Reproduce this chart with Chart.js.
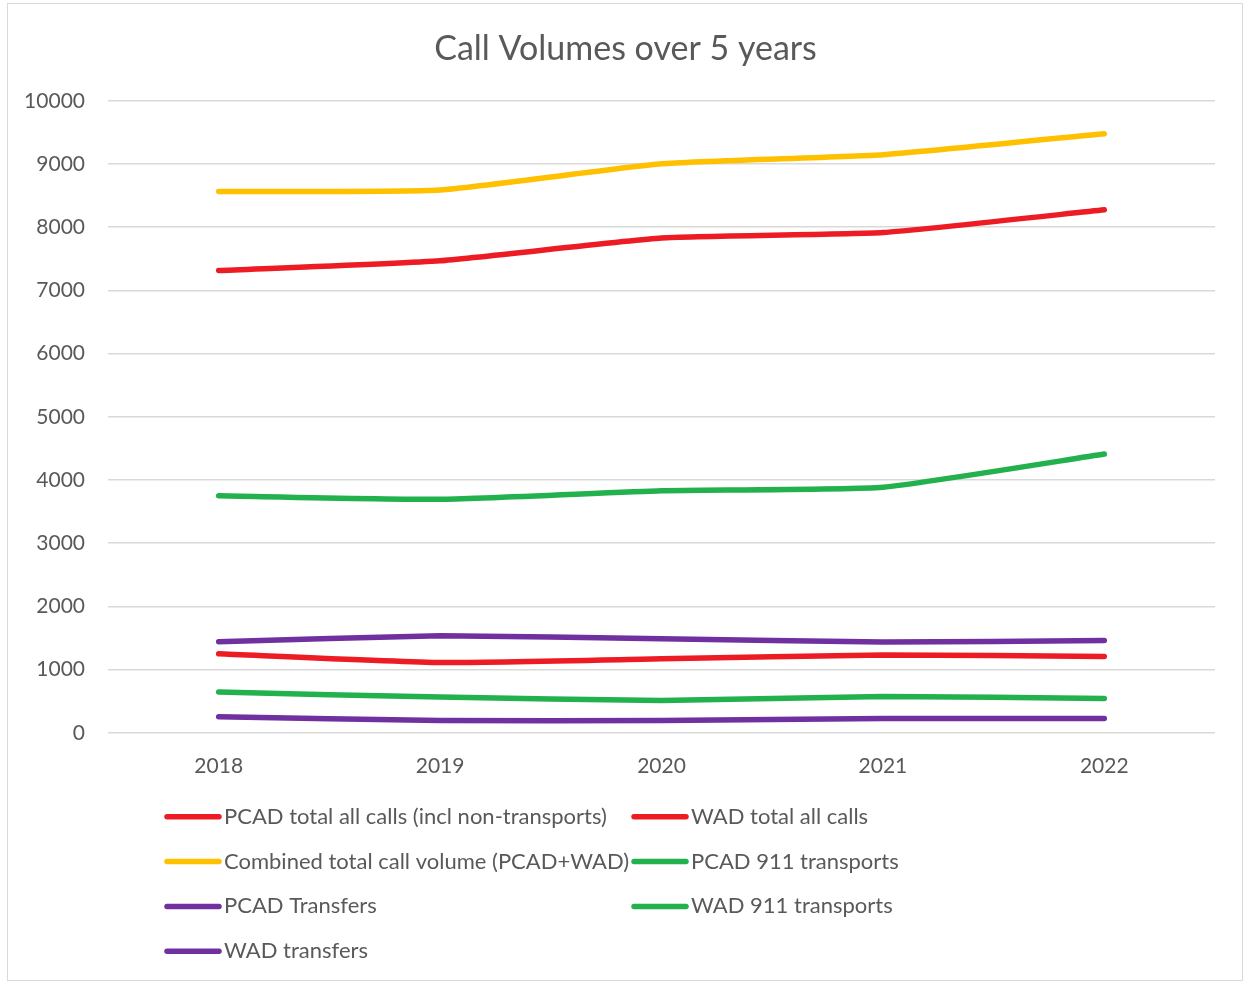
<!DOCTYPE html>
<html>
<head>
<meta charset="utf-8">
<title>Call Volumes over 5 years</title>
<script src="https://cdn.jsdelivr.net/npm/chart.js@4.4.0/dist/chart.umd.min.js"></script>
<style>
  html, body { margin: 0; padding: 0; background: #ffffff; }
  #wrap { position: relative; width: 1244px; height: 982px; }
</style>
</head>
<body>
<div id="wrap"><canvas id="myChart"></canvas></div>
<script>
// data
var years = ['2018', '2019', '2020', '2021', '2022'];
var pcadTotal = [7315, 7470, 7830, 7915, 8275];
var wadTotal = [1250, 1112, 1170, 1232, 1207];
var combinedTotal = [8565, 8590, 9003, 9146, 9480];
var pcad911 = [3750, 3695, 3830, 3885, 4410];
var pcadTransfers = [1440, 1535, 1487, 1435, 1460];
var wad911 = [644, 565, 511, 575, 543];
var wadTransfers = [253, 195, 195, 226, 226];

var seriesNames = ['PCAD total all calls (incl non-transports)', 'WAD total all calls',
    'Combined total call volume (PCAD+WAD)', 'PCAD 911 transports',
    'PCAD Transfers', 'WAD 911 transports', 'WAD transfers'];
var yTicks = [0, 1000, 2000, 3000, 4000, 5000, 6000, 7000, 8000, 9000, 10000];

var RED = '#ed1c24', YELLOW = '#ffc000', GREEN = '#22b14c', PURPLE = '#7030a0';
var TXT = '#595959', GRID = '#d9d9d9';
var FONT = 'Lato, "Open Sans", sans-serif';

function serie(name, values, color) {
    return {
        label: name,
        data: values,
        yAxisID: 'y',
        borderColor: color,
        backgroundColor: color,
        borderWidth: 5.5,
        borderCapStyle: 'round',
        borderJoinStyle: 'round',
        pointRadius: 0,
        pointHoverRadius: 0,
        tension: 0.15
    };
}

var datasets = [
    serie(seriesNames[0], pcadTotal, RED),
    serie(seriesNames[1], wadTotal, RED),
    serie(seriesNames[2], combinedTotal, YELLOW),
    serie(seriesNames[3], pcad911, GREEN),
    serie(seriesNames[4], pcadTransfers, PURPLE),
    serie(seriesNames[5], wad911, GREEN),
    serie(seriesNames[6], wadTransfers, PURPLE)
];

// outer frame like the excel chart border
var framePlugin = {
    id: 'frame',
    beforeDraw: function (chart) {
        var ctx = chart.ctx;
        ctx.save();
        ctx.fillStyle = '#ffffff';
        ctx.fillRect(0, 0, chart.width, chart.height);
        ctx.strokeStyle = GRID;
        ctx.lineWidth = 1;
        ctx.strokeRect(7.5, 3.5, chart.width - 9, chart.height - 5);
        ctx.restore();
    }
};

// two column legend, excel style
var legendPlugin = {
    id: 'twoColLegend',
    afterDraw: function (chart) {
        var ctx = chart.ctx;
        var area = chart.chartArea;
        var cols = [165, 632];
        ctx.save();
        ctx.font = '22px ' + FONT;
        ctx.textBaseline = 'middle';
        ctx.textAlign = 'left';
        chart.data.datasets.forEach(function (ds, i) {
            var x = cols[i % 2];
            var y = area.bottom + 84 + Math.floor(i / 2) * 44.8;
            ctx.strokeStyle = ds.borderColor;
            ctx.lineWidth = 5.5;
            ctx.lineCap = 'round';
            ctx.beginPath();
            ctx.moveTo(x + 2, y);
            ctx.lineTo(x + 54, y);
            ctx.stroke();
            ctx.fillStyle = TXT;
            ctx.fillText(ds.label, x + 59, y);
        });
        ctx.restore();
    }
};

var ctx = document.getElementById('myChart').getContext('2d');
var chart1 = new Chart(ctx, {
    type: 'line',
    data: {
        labels: years,
        datasets: datasets
    },
    options: {
        responsive: true,
        maintainAspectRatio: false,
        animation: false,
        layout: {
            padding: { top: 0, left: 18, right: 11, bottom: 190 }
        },
        plugins: {
            legend: { display: false },
            tooltip: { enabled: false },
            title: {
                display: true,
                text: 'Call Volumes over 5 years',
                color: TXT,
                font: { family: FONT, size: 34, weight: 'normal' },
                padding: { top: 29, bottom: 31 }
            }
        },
        scales: {
            x: {
                offset: true,
                grid: { display: false },
                border: { display: false },
                ticks: {
                    color: TXT,
                    font: { family: FONT, size: 21 },
                    padding: 13
                }
            },
            y: {
                position: 'left',
                min: 0,
                max: 10000,
                afterBuildTicks: function (scale) {
                    scale.ticks = yTicks.map(function (v) { return { value: v }; });
                },
                afterFit: function (scale) { scale.width = 90; },
                grid: { color: GRID, lineWidth: 1.5, drawTicks: false },
                border: { display: false },
                ticks: {
                    color: TXT,
                    font: { family: FONT, size: 21 },
                    padding: 23,
                    callback: function (v) { return String(v); }
                }
            },
            // empty right margin so the title sits over the whole frame
            yRight: {
                position: 'right',
                min: 0,
                max: 10000,
                afterFit: function (scale) { scale.width = 18; },
                grid: { display: false },
                border: { display: false },
                ticks: { display: false }
            }
        }
    },
    plugins: [framePlugin, legendPlugin]
});
</script>
</body>
</html>
